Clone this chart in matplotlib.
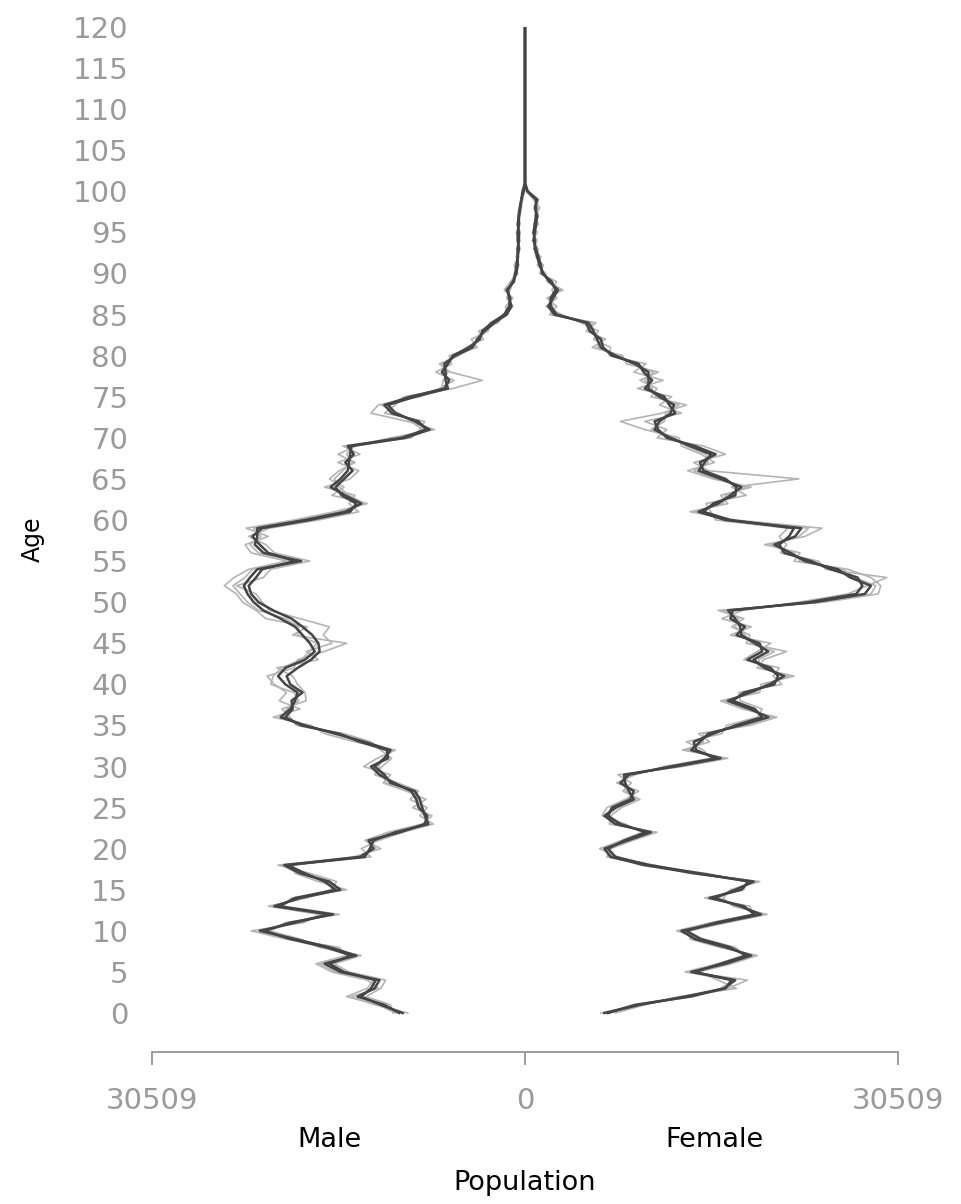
"""
Population pyramid drawn as lines: several simulation runs, males to the
left of zero, females to the right, single years of age 0..100.
"""

import matplotlib
matplotlib.use('Agg')
import matplotlib.pyplot as plt

# --- Data (population in thousands, ages 0..100) ---
AGES = list(range(0, 101))
EMPTY_AGES = list(range(101, 121))   # nobody lives past 100
MAX_POP = 30509                      # axis end on both sides

MALE_RUN_A = [
    10.3, 11.5, 13.7, 12.3, 11.9, 15.1, 16.4, 13.8, 16.0, 18.8,
    21.7, 18.8, 16.0, 20.5, 18.4, 15.1, 16.0, 18.4, 19.7, 13.1,
    12.7, 12.4, 10.6, 7.9, 8.2, 8.4, 8.6, 9.0, 11.0, 11.5,
    12.3, 11.5, 11.0, 13.1, 15.5, 18.0, 20.0, 19.2, 18.8, 18.6,
    19.6, 20.2, 19.6, 18.0, 17.2, 17.6, 18.2, 18.8, 20.0, 21.4,
    22.2, 22.7, 23.0, 22.5, 21.9, 18.3, 21.4, 22.1, 21.9, 21.9,
    18.0, 14.7, 13.4, 14.7, 15.9, 15.1, 14.5, 14.4, 14.3, 14.2,
    9.8, 7.8, 9.0, 10.6, 11.2, 9.0, 6.3, 6.5, 6.5, 6.6,
    5.7, 4.3, 3.9, 3.3, 2.5, 1.5, 1.1, 1.3, 1.4, 1.0,
    0.7, 0.6, 0.6, 0.6, 0.5, 0.5, 0.6, 0.5, 0.4, 0.3, 0.2,
]
MALE_RUN_B = [
    10.0, 11.8, 13.4, 12.6, 12.2, 14.8, 16.0, 14.2, 16.3, 19.2,
    21.3, 19.2, 15.7, 20.1, 18.8, 15.5, 16.4, 18.0, 19.4, 13.5,
    12.4, 12.8, 10.2, 8.2, 8.0, 8.7, 8.9, 9.3, 10.7, 11.9,
    12.6, 11.2, 11.3, 13.5, 15.2, 18.3, 19.6, 19.0, 19.1, 18.2,
    19.2, 19.5, 18.6, 17.5, 16.8, 16.9, 17.4, 18.2, 19.1, 20.6,
    21.8, 22.4, 22.6, 22.0, 21.5, 18.8, 21.0, 21.7, 22.3, 21.5,
    17.6, 14.3, 13.8, 15.0, 15.5, 14.8, 14.1, 14.7, 14.0, 14.5,
    10.1, 8.1, 8.7, 10.9, 11.5, 9.4, 6.6, 6.2, 6.8, 6.3,
    5.9, 4.6, 3.7, 3.5, 2.7, 1.7, 1.3, 1.2, 1.5, 0.9,
    0.8, 0.7, 0.6, 0.5, 0.6, 0.6, 0.5, 0.5, 0.4, 0.3, 0.1,
]
MALE_RUN_C = [
    9.6, 12.3, 14.2, 12.0, 12.9, 15.8, 17.1, 14.6, 15.2, 19.6,
    22.4, 18.1, 16.8, 21.0, 17.9, 15.9, 15.4, 17.6, 20.2, 14.0,
    11.8, 13.1, 11.2, 8.4, 7.6, 9.2, 8.1, 9.7, 11.6, 11.0,
    13.2, 12.1, 10.6, 13.9, 16.4, 17.5, 20.6, 18.4, 20.1, 19.5,
    20.5, 21.1, 18.9, 18.6, 16.4, 14.6, 19.0, 17.8, 21.2, 22.0,
    23.1, 23.6, 24.6, 23.8, 22.6, 19.5, 22.4, 22.9, 21.0, 22.8,
    18.9, 15.6, 12.9, 15.8, 14.8, 16.0, 15.2, 13.9, 15.3, 13.8,
    11.0, 7.4, 9.6, 12.6, 12.0, 8.6, 7.0, 5.8, 7.3, 6.0,
    6.2, 3.9, 4.4, 3.0, 2.9, 1.4, 1.6, 1.0, 1.7, 1.2,
    0.6, 0.9, 0.5, 0.7, 0.4, 0.7, 0.4, 0.6, 0.5, 0.3, 0.2,
]
MALE_RUN_D = [
    10.8, 11.0, 13.0, 11.8, 11.4, 14.4, 15.6, 13.4, 16.8, 18.4,
    20.9, 19.6, 15.2, 19.8, 19.1, 14.6, 16.9, 18.8, 19.0, 12.6,
    13.4, 12.0, 10.0, 7.5, 8.6, 8.0, 9.4, 8.7, 10.4, 12.3,
    11.7, 10.9, 11.8, 12.6, 14.8, 18.7, 19.2, 19.9, 17.9, 18.0,
    18.6, 19.0, 20.3, 16.9, 17.9, 15.8, 16.5, 16.0, 18.4, 20.9,
    21.5, 22.0, 23.6, 21.4, 20.8, 17.6, 20.5, 21.2, 22.6, 20.9,
    16.9, 13.6, 14.4, 13.9, 16.4, 14.3, 13.6, 15.3, 13.5, 14.9,
    9.3, 8.6, 8.2, 11.5, 10.6, 9.9, 5.9, 3.5, 6.1, 7.0,
    5.4, 4.8, 3.4, 3.8, 2.2, 1.8, 1.0, 1.5, 1.2, 1.0,
    0.9, 0.5, 0.7, 0.4, 0.6, 0.5, 0.6, 0.4, 0.3, 0.2, 0.1,
]
MALE_RUN_E = [
    10.6, 12.0, 14.6, 12.9, 12.4, 15.5, 16.8, 14.0, 15.6, 19.0,
    21.0, 19.0, 16.4, 20.8, 18.0, 15.3, 16.2, 18.6, 19.9, 13.8,
    12.2, 12.6, 10.9, 8.0, 7.9, 8.5, 8.8, 9.1, 11.3, 11.7,
    12.0, 11.6, 10.8, 13.3, 15.8, 17.8, 19.8, 19.5, 18.5, 18.9,
    20.8, 20.6, 19.9, 18.3, 17.6, 17.0, 18.6, 18.5, 19.6, 21.8,
    22.7, 23.3, 23.9, 22.9, 22.3, 19.0, 21.8, 22.5, 21.6, 22.2,
    18.4, 15.1, 13.1, 14.4, 15.2, 15.6, 14.9, 14.1, 14.6, 14.0,
    9.5, 8.4, 9.3, 10.3, 11.8, 8.8, 6.8, 6.7, 6.3, 6.9,
    5.5, 4.1, 4.0, 3.2, 2.6, 1.6, 1.2, 1.4, 1.3, 1.1,
    0.8, 0.6, 0.7, 0.6, 0.5, 0.4, 0.6, 0.5, 0.4, 0.2, 0.1,
]

FEMALE_RUN_A = [
    6.5, 9.4, 13.1, 16.3, 17.2, 13.6, 16.4, 18.5, 16.4, 13.9,
    12.8, 16.0, 19.3, 17.6, 15.5, 17.2, 18.7, 13.9, 9.8, 7.0,
    6.5, 8.4, 10.3, 7.4, 6.5, 7.4, 8.9, 8.5, 8.2, 8.1,
    12.3, 16.0, 13.6, 14.3, 15.0, 17.6, 19.9, 18.4, 16.6, 18.4,
    20.0, 21.2, 19.6, 18.7, 19.9, 18.8, 17.7, 17.6, 17.2, 16.6,
    23.7, 27.8, 28.3, 26.6, 25.6, 22.9, 21.7, 20.4, 22.1, 22.6,
    16.4, 14.2, 15.8, 16.8, 17.7, 16.0, 14.2, 14.7, 15.2, 13.5,
    11.9, 10.6, 11.0, 11.9, 12.2, 11.0, 10.1, 10.1, 10.1, 9.0,
    7.4, 6.2, 5.9, 5.6, 5.2, 2.4, 1.9, 2.3, 2.7, 2.0,
    1.5, 1.2, 1.0, 0.8, 0.8, 0.7, 0.8, 0.9, 0.9, 0.9, 0.2,
]
FEMALE_RUN_B = [
    6.8, 9.0, 13.5, 16.4, 16.9, 13.9, 16.0, 18.1, 16.8, 14.4,
    13.2, 15.6, 18.8, 17.9, 15.1, 17.7, 18.3, 14.3, 10.2, 7.4,
    6.8, 8.1, 9.9, 7.8, 6.8, 7.1, 8.6, 8.9, 7.8, 8.5,
    11.9, 15.6, 14.0, 13.8, 15.4, 17.2, 19.4, 18.8, 17.0, 17.9,
    20.4, 20.7, 20.1, 18.2, 19.4, 19.2, 17.3, 18.0, 16.8, 17.0,
    23.2, 27.1, 27.6, 27.2, 25.0, 23.4, 21.2, 20.8, 21.6, 22.0,
    16.8, 14.6, 15.4, 17.2, 17.3, 16.4, 14.6, 14.3, 15.6, 13.9,
    11.6, 10.9, 10.6, 12.3, 11.8, 11.4, 9.8, 10.4, 9.7, 9.3,
    7.1, 6.4, 6.2, 5.3, 5.0, 2.6, 2.1, 2.1, 2.5, 2.2,
    1.4, 1.3, 1.1, 0.9, 0.7, 0.8, 0.9, 1.0, 0.8, 1.0, 0.2,
]
FEMALE_RUN_C = [
    7.4, 9.8, 12.6, 17.3, 15.8, 14.2, 16.9, 19.0, 15.9, 13.5,
    13.5, 16.5, 19.8, 17.0, 16.2, 16.8, 19.2, 13.4, 10.6, 6.7,
    7.0, 8.8, 10.8, 6.9, 7.0, 7.9, 9.4, 8.0, 8.7, 7.6,
    12.9, 16.6, 12.9, 15.1, 14.2, 18.4, 20.6, 17.8, 16.0, 19.2,
    19.3, 22.0, 19.0, 19.5, 21.4, 18.1, 18.4, 16.9, 17.9, 15.8,
    24.5, 28.9, 29.1, 28.3, 26.4, 22.0, 22.5, 19.6, 22.9, 24.3,
    17.2, 13.5, 16.6, 16.0, 18.5, 15.4, 13.3, 15.5, 14.4, 12.8,
    12.6, 9.8, 7.8, 11.2, 13.2, 10.3, 10.8, 9.4, 10.9, 8.3,
    8.0, 5.5, 6.6, 5.0, 5.8, 2.0, 2.6, 1.8, 3.1, 1.8,
    1.7, 1.0, 1.3, 0.7, 1.0, 0.6, 1.1, 0.8, 1.2, 0.7, 0.1,
]
FEMALE_RUN_D = [
    6.2, 9.2, 13.8, 16.0, 17.0, 13.1, 15.8, 17.9, 17.2, 14.6,
    12.4, 15.2, 18.6, 18.4, 14.7, 17.9, 18.1, 14.8, 9.4, 7.6,
    6.1, 7.9, 9.6, 8.2, 6.3, 6.7, 8.2, 9.3, 7.5, 9.0,
    11.4, 15.2, 14.6, 13.2, 16.1, 16.5, 19.0, 19.4, 17.6, 17.5,
    21.0, 20.3, 20.8, 17.9, 19.0, 20.1, 16.8, 18.5, 16.1, 17.8,
    22.4, 26.4, 28.0, 29.6, 24.6, 24.0, 20.9, 21.4, 20.8, 21.5,
    15.6, 15.2, 14.8, 18.1, 16.9, 22.4, 15.0, 13.8, 16.4, 14.6,
    10.8, 11.6, 9.8, 12.8, 11.0, 12.0, 9.2, 11.3, 8.9, 9.9,
    6.9, 7.0, 5.6, 6.0, 4.6, 3.0, 1.7, 2.6, 2.2, 2.6,
    1.2, 1.5, 0.9, 1.1, 0.6, 1.0, 0.7, 1.1, 0.9, 1.1, 0.3,
]
FEMALE_RUN_E = [
    6.6, 9.6, 13.3, 16.6, 18.2, 13.4, 16.6, 18.8, 16.1, 14.1,
    13.0, 16.2, 19.5, 17.3, 15.8, 17.0, 18.9, 14.1, 10.0, 7.2,
    6.7, 8.6, 10.5, 7.2, 6.6, 7.6, 9.1, 8.3, 8.0, 8.3,
    12.6, 16.3, 13.3, 14.6, 14.6, 18.0, 20.2, 18.1, 16.3, 18.8,
    19.7, 21.6, 19.3, 19.1, 20.4, 18.5, 18.0, 17.2, 17.5, 16.2,
    24.1, 28.3, 28.7, 27.0, 26.0, 22.5, 22.0, 20.1, 22.4, 23.2,
    16.7, 13.9, 16.2, 16.4, 18.1, 15.7, 13.8, 15.0, 14.8, 13.2,
    12.2, 10.3, 11.4, 11.5, 12.6, 10.7, 10.4, 9.8, 10.5, 8.7,
    7.7, 5.9, 6.3, 5.3, 5.5, 2.2, 2.3, 2.0, 2.9, 1.9,
    1.6, 1.1, 1.2, 0.8, 0.9, 0.7, 1.0, 0.9, 1.0, 0.8, 0.2,
]

DARK_RUNS = [(MALE_RUN_A, FEMALE_RUN_A), (MALE_RUN_B, FEMALE_RUN_B)]
LIGHT_RUNS = [(MALE_RUN_C, FEMALE_RUN_C), (MALE_RUN_D, FEMALE_RUN_D),
              (MALE_RUN_E, FEMALE_RUN_E)]

AGE_TICKS = list(range(0, 121, 5))
POP_TICKS = [-MAX_POP, 0, MAX_POP]
POP_TICK_LABELS = ['30509', '0', '30509']

# --- Style ---
DARK = '#454545'
LIGHT = '#b4b4b4'
TICK_GREY = '#9a9a9a'
AXIS_GREY = '#8c8c8c'


def side(values, sign):
    """Thousands -> persons, signed for the side, padded with empty ages."""
    return [sign * v * 1000 for v in values] + [0] * len(EMPTY_AGES)


all_ages = AGES + EMPTY_AGES

fig = plt.figure(figsize=(9.61, 12.04), dpi=100, facecolor='white')
ax = fig.add_axes([0.1582, 0.1262, 0.7762, 0.8514])

for runs, color, lw, z in [(LIGHT_RUNS, LIGHT, 1.2, 1), (DARK_RUNS, DARK, 1.8, 2)]:
    for male, female in runs:
        ax.plot(side(male, -1), all_ages, color=color, lw=lw, zorder=z)
        ax.plot(side(female, 1), all_ages, color=color, lw=lw, zorder=z)

ax.set_xlim(-MAX_POP, MAX_POP)
ax.set_ylim(-4.75, 120)

for s in ['top', 'right', 'left']:
    ax.spines[s].set_visible(False)
ax.spines['bottom'].set_color(AXIS_GREY)
ax.spines['bottom'].set_linewidth(1.2)

ax.set_yticks(AGE_TICKS)
ax.set_yticklabels([str(a) for a in AGE_TICKS])
ax.tick_params(axis='y', length=0, pad=17, labelsize=21, labelcolor=TICK_GREY)

ax.set_xticks(POP_TICKS)
ax.set_xticklabels(POP_TICK_LABELS)
ax.tick_params(axis='x', direction='out', length=9, width=1.2, color=AXIS_GREY,
               pad=16, labelsize=21, labelcolor=TICK_GREY)

ax.set_ylabel('Age', fontsize=17, color='black', labelpad=20)
ax.set_xlabel('Population', fontsize=19.5, color='black', labelpad=40)

fig.text(330 / 961, 1 - 1140 / 1204, 'Male', fontsize=19.5, color='black',
         ha='center', va='center')
fig.text(715 / 961, 1 - 1140 / 1204, 'Female', fontsize=19.5, color='black',
         ha='center', va='center')

fig.savefig('out.png', dpi=100, facecolor='white')
